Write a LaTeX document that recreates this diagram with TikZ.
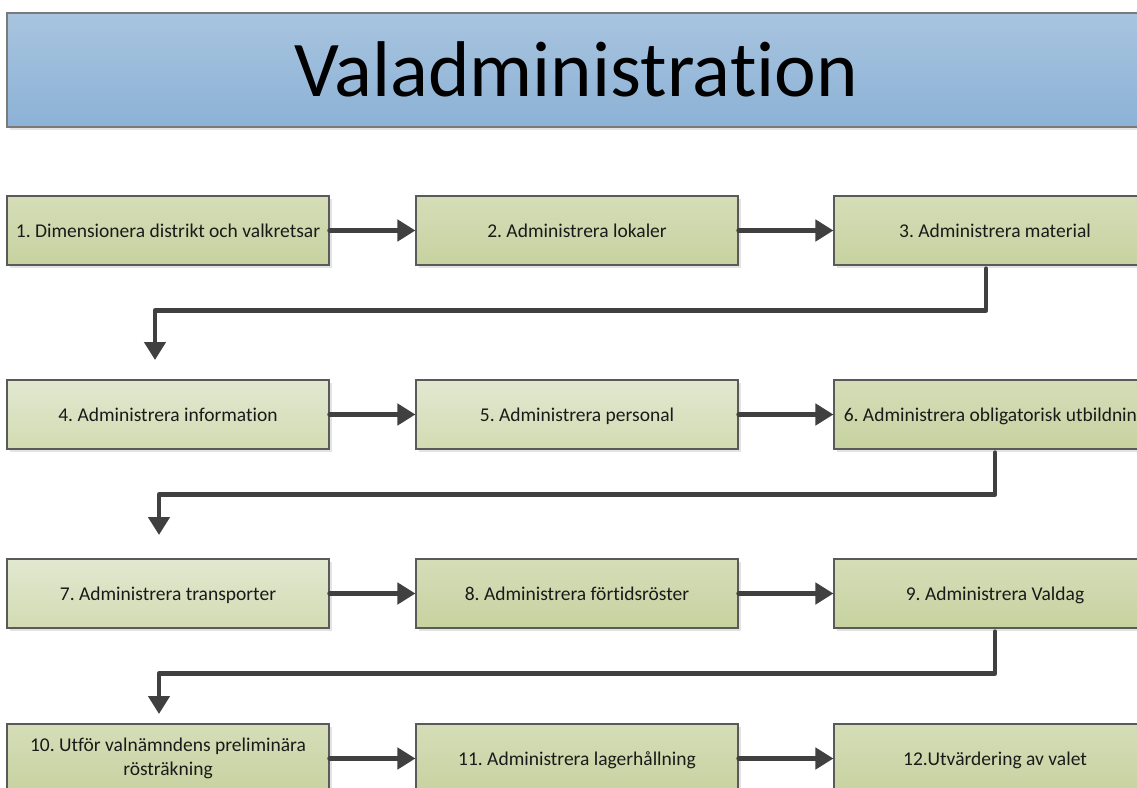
\documentclass[tikz,border=0pt]{standalone}
\usepackage{fontspec}
\setmainfont[Ligatures=CommonOff]{Carlito}
\usetikzlibrary{arrows.meta,shadows}
\definecolor{titletop}{HTML}{A8C4DF}
\definecolor{titlebot}{HTML}{8CB2D6}
\definecolor{titleborder}{HTML}{7A7A7A}
\definecolor{gtop}{HTML}{D5DDB8}
\definecolor{gbot}{HTML}{C7D2A0}
\definecolor{ltop}{HTML}{E2E8D0}
\definecolor{lbot}{HTML}{D3DBB3}
\definecolor{boxborder}{HTML}{5A5A5A}
\definecolor{arrowc}{HTML}{404040}
\definecolor{txt}{HTML}{1A1A1A}
\frenchspacing
\begin{document}
\begin{tikzpicture}[x=1pt,y=-1pt,
  basebox/.style={draw=boxborder, line width=1.1pt, minimum width=322pt,
    minimum height=69pt, inner sep=0pt, top color=gtop, bottom color=gbot,
    drop shadow={opacity=0.22, shadow xshift=3pt, shadow yshift=-3pt},
    font=\fontsize{19.5}{24}\selectfont, align=center, text=txt},
  stepbox/.style={basebox, text height=16pt, text depth=3pt},
  lightbox/.style={stepbox, top color=ltop, bottom color=lbot},
  titlebox/.style={draw=titleborder, line width=1.3pt, minimum width=1138pt,
    minimum height=114pt, inner sep=0pt, top color=titletop, bottom color=titlebot,
    drop shadow={opacity=0.2, shadow xshift=3pt, shadow yshift=-3pt},
    font=\fontsize{79}{86}\selectfont, text=black},
  flow/.style={line width=4.5pt, draw=arrowc, line cap=round, line join=round,
    -{Triangle[length=18pt,width=21pt]}},
]
\useasboundingbox (0,0) rectangle (1137,787);
\clip (0,0) rectangle (1137,787);
\fill[white] (0,0) rectangle (1137,787);

\node[titlebox] (title) at (576,70) {\raisebox{2pt}{Valadministration}};

% row 1
\node[stepbox] (b1) at (168,230.5) {1. Dimensionera distrikt och valkretsar};
\node[stepbox] (b2) at (577,230.5) {2. Administrera lokaler};
\node[stepbox] (b3) at (995,230.5) {3. Administrera material};
% row 2
\node[lightbox] (b4) at (168,414.5) {4. Administrera information};
\node[lightbox] (b5) at (577,414.5) {5. Administrera personal};
\node[stepbox] (b6) at (995,414.5) {6. Administrera obligatorisk utbildning};
% row 3
\node[lightbox] (b7) at (168,593.5) {7. Administrera transporter};
\node[stepbox] (b8) at (577,593.5) {8. Administrera förtidsröster};
\node[stepbox] (b9) at (995,593.5) {9. Administrera Valdag};
% row 4
\node[basebox] (b10) at (168,758.5) {10. Utför valnämndens preliminära\\rösträkning};
\node[stepbox] (b11) at (577,758.5) {11. Administrera lagerhållning};
\node[stepbox] (b12) at (995,758.5) {12.Utvärdering av valet};

\coordinate (e4) at (155,360);
\coordinate (e7) at (159,535);
\coordinate (e10) at (159,714);

\draw[flow] (b1.east) -- (b2.west);
\draw[flow] (b2.east) -- (b3.west);
\draw[flow] (b4.east) -- (b5.west);
\draw[flow] (b5.east) -- (b6.west);
\draw[flow] (b7.east) -- (b8.west);
\draw[flow] (b8.east) -- (b9.west);
\draw[flow] (b10.east) -- (b11.west);
\draw[flow] (b11.east) -- (b12.west);

\draw[flow] ([xshift=-9pt,yshift=-3pt]b3.south) -- ++(0,42) -| (e4);
\draw[flow] ([yshift=-3pt]b6.south) -- ++(0,42) -| (e7);
\draw[flow] ([yshift=-3pt]b9.south) -- ++(0,42) -| (e10);
\end{tikzpicture}
\end{document}
